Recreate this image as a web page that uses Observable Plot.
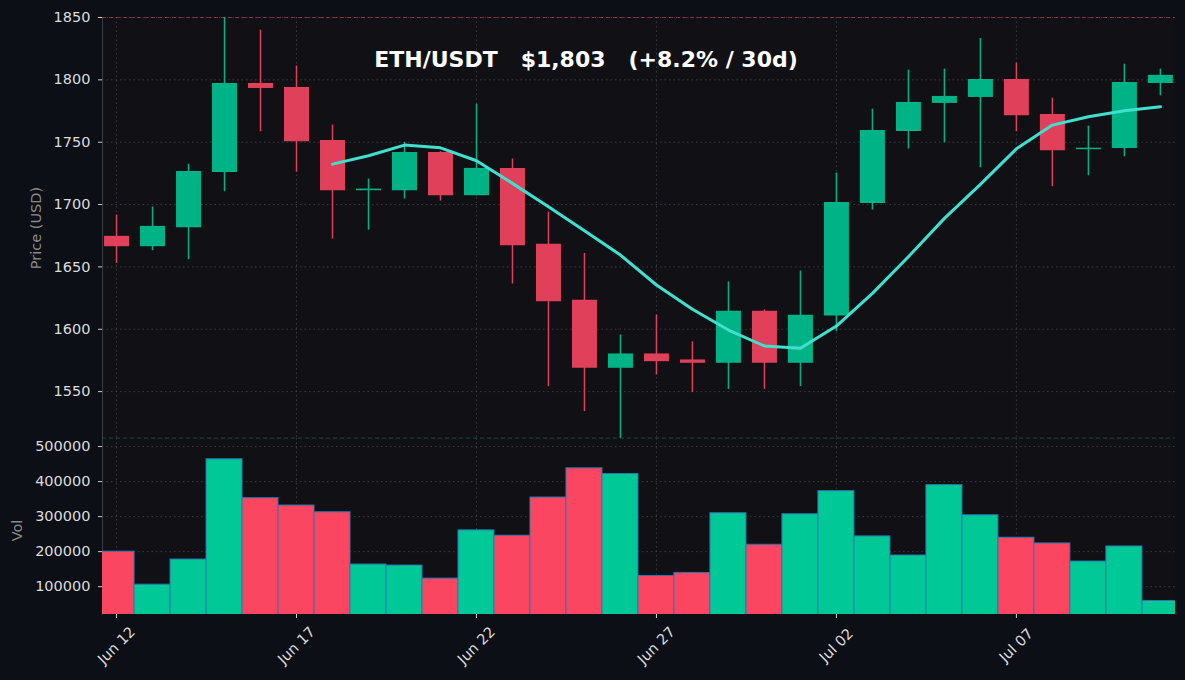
<!DOCTYPE html>
<html>
<head>
<meta charset="utf-8">
<script src="https://cdn.jsdelivr.net/npm/d3@7"></script>
<script src="https://cdn.jsdelivr.net/npm/@observablehq/plot@0.6"></script>
<style>
  html, body { margin: 0; padding: 0; background: #0c0f16; }
  #chart { width: 1185px; height: 680px; background: #0c0f16; overflow: hidden; }
  #chart svg { display: block; font-family: "DejaVu Sans", sans-serif; }
</style>
</head>
<body>
<div id="chart"></div>
<script>
// ---- data ----
const dates = ["2023-06-12","2023-06-13","2023-06-14","2023-06-15","2023-06-16","2023-06-17","2023-06-18","2023-06-19","2023-06-20","2023-06-21",
               "2023-06-22","2023-06-23","2023-06-24","2023-06-25","2023-06-26","2023-06-27","2023-06-28","2023-06-29","2023-06-30","2023-07-01",
               "2023-07-02","2023-07-03","2023-07-04","2023-07-05","2023-07-06","2023-07-07","2023-07-08","2023-07-09","2023-07-10","2023-07-11"];
const opens  = [1674.5,1666.2,1681.4,1725.8,1797.1,1793.9,1751.4,1711.1,1711.1,1741.8,
                1707.1,1729.0,1668.1,1623.2,1568.7,1580.2,1575.4,1572.7,1614.4,1572.7,
                1610.6,1700.9,1758.6,1781.1,1785.9,1800.3,1772.3,1744.0,1745.0,1797.1];
const highs  = [1691.6,1698.0,1732.4,1850.0,1839.8,1811.0,1763.7,1720.4,1749.8,1742.5,
                1780.5,1736.5,1694.0,1660.8,1595.4,1611.4,1590.0,1637.9,1615.5,1646.7,
                1725.2,1776.5,1807.8,1808.6,1833.2,1813.4,1785.3,1762.9,1812.6,1808.6];
const lows   = [1652.8,1663.0,1655.8,1710.3,1758.4,1726.0,1672.3,1679.5,1704.4,1702.8,
                1707.0,1636.3,1554.0,1534.0,1512.6,1563.3,1549.2,1551.8,1551.8,1554.0,
                1598.1,1695.6,1744.5,1749.5,1729.5,1758.4,1714.3,1723.1,1738.3,1787.2];
const closes = [1666.2,1682.5,1726.6,1797.1,1793.1,1750.3,1711.1,1712.4,1741.8,1707.1,
                1729.0,1667.0,1622.1,1568.7,1580.2,1574.0,1572.7,1614.4,1572.7,1611.2,
                1701.7,1759.4,1781.9,1786.7,1800.3,1771.2,1743.1,1745.2,1797.9,1803.6];
const volumes = [200000,105700,177500,463600,352600,331600,312400,163200,160300,123000,
                 260800,245500,354500,437800,421500,130600,139200,309600,219600,306700,
                 372700,243500,189000,389900,303800,239700,223400,171800,214800,59000];
// 7-day moving average (starts Jun 18)
const maDates = dates.slice(6);
const maValues = [1732.4,1739.1,1747.7,1745.5,1735.1,1717.0,1698.2,1679.0,1659.5,1635.5,
                  1616.0,1599.4,1586.6,1584.7,1602.6,1628.8,1658.2,1688.9,1716.2,1744.7,
                  1763.7,1770.4,1775.2,1778.4];
const priceTicks = [1550,1600,1650,1700,1750,1800,1850];
const volTicks = [100000,200000,300000,400000,500000];
const xTickDates = ["2023-06-12","2023-06-17","2023-06-22","2023-06-27","2023-07-02","2023-07-07"];
const titleText = "ETH/USDT\u00a0\u00a0\u00a0$1,803\u00a0\u00a0\u00a0(+8.2% / 30d)";

// ---- build tables ----
const parse = d3.utcParse("%Y-%m-%d");
const candles = dates.map((d, i) => ({
  date: parse(d), open: opens[i], high: highs[i], low: lows[i], close: closes[i],
  volume: volumes[i], up: closes[i] >= opens[i]
}));
const ma = maDates.map((d, i) => ({date: parse(d), value: maValues[i]}));
const xTicks = xTickDates.map(parse);
const fmt = d3.utcFormat("%b %d");

const DAY = 864e5;
const xDomain = [new Date(+parse(dates[0]) - 0.39 * DAY), new Date(+parse(dates[dates.length - 1]) + 0.42 * DAY)];

const UP = "#00b386", DOWN = "#e0405a";
const VUP = "#00c897", VDOWN = "#fb4662";
const BG_IN = "#111115";
const GRID = {stroke: "#4a4d55", strokeDasharray: "1.5,3", strokeOpacity: 0.7, strokeWidth: 1};
const FONT = "DejaVu Sans";
const chartStyle = {fontFamily: FONT, fontSize: "14.5px", color: "#dcdcdc", background: "transparent", overflow: "visible"};

const W = 1185, ML = 102, MR = 10;
const TOP_H = 438;
const lowMin = d3.min(lows), highMax = d3.max(highs);

const priceChart = Plot.plot({
  width: W, height: TOP_H,
  marginLeft: ML, marginRight: MR, marginTop: 17, marginBottom: 0,
  style: chartStyle,
  x: {type: "utc", domain: xDomain, axis: null},
  y: {domain: [1512.4, 1850], axis: null},
  marks: [
    Plot.frame({fill: BG_IN, stroke: null}),
    Plot.gridX(xTicks, GRID),
    Plot.gridY(priceTicks, GRID),
    Plot.frame({anchor: "left", stroke: "#3a3d45"}),
    Plot.axisY(priceTicks, {tickSize: 4, tickPadding: 8, label: null, tickFormat: d3.format("d"), fill: "#dcdcdc", stroke: "#cfcfcf", fontSize: "14.5px", fontFamily: FONT}),
    Plot.text(["Price (USD)"], {frameAnchor: "left", dx: -66, rotate: -90, textAnchor: "middle", lineAnchor: "middle", fill: "#8a8a8a", fontSize: "14.5px", fontFamily: FONT}),
    Plot.ruleY([highMax], {stroke: DOWN, strokeOpacity: 0.55, strokeDasharray: "4,3", strokeWidth: 1}),
    Plot.ruleY([lowMin], {stroke: UP, strokeOpacity: 0.6, strokeDasharray: "4,3", strokeWidth: 1}),
    Plot.ruleX(candles, {x: "date", y1: "low", y2: "high", stroke: d => d.up ? UP : DOWN, strokeWidth: 1.5, clip: true}),
    Plot.ruleX(candles, {x: "date", y1: "open", y2: "close", stroke: d => d.up ? UP : DOWN, strokeWidth: 25}),
    Plot.line(ma, {x: "date", y: "value", stroke: "#40e0d0", strokeWidth: 3, strokeLinejoin: "round", strokeLinecap: "round"}),
    Plot.text([titleText], {frameAnchor: "top", dx: -53, dy: 42, textAnchor: "middle", lineAnchor: "middle", fill: "#ffffff", fontWeight: "bold", fontSize: "22px", fontFamily: FONT})
  ]
});

const BOT_H = 680 - TOP_H;
const volumeChart = Plot.plot({
  width: W, height: BOT_H,
  marginLeft: ML, marginRight: MR, marginTop: 0, marginBottom: BOT_H - (614 - TOP_H),
  style: chartStyle,
  x: {type: "utc", domain: xDomain, axis: null},
  y: {domain: [20600, 523000], axis: null},
  marks: [
    Plot.frame({fill: BG_IN, stroke: null}),
    Plot.gridX(xTicks, GRID),
    Plot.gridY(volTicks, GRID),
    Plot.frame({anchor: "left", stroke: "#3a3d45"}),
    Plot.axisY(volTicks, {tickSize: 4, tickPadding: 8, label: null, tickFormat: d3.format("d"), fill: "#dcdcdc", stroke: "#cfcfcf", fontSize: "14.5px", fontFamily: FONT}),
    Plot.text(["Vol"], {frameAnchor: "left", dx: -85.5, dy: 4, rotate: -90, textAnchor: "middle", lineAnchor: "middle", fill: "#8a8a8a", fontSize: "14.5px", fontFamily: FONT}),
    Plot.rectY(candles, {
      x1: d => new Date(+d.date - DAY / 2), x2: d => new Date(+d.date + DAY / 2),
      y1: 0, y2: "volume",
      fill: d => d.up ? VUP : VDOWN, stroke: "#2a78b4", strokeWidth: 1, clip: true
    }),
    Plot.axisX(xTicks, {tickSize: 4, tickFormat: () => "", stroke: "#cfcfcf"}),
    Plot.text(xTicks, {x: d => d, text: d => fmt(d), frameAnchor: "bottom", dy: 31, rotate: -45, textAnchor: "middle", lineAnchor: "middle", fill: "#dcdcdc", fontSize: "14.5px", fontFamily: FONT})
  ]
});

const host = document.getElementById("chart");
host.appendChild(priceChart);
host.appendChild(volumeChart);
</script>
</body>
</html>
